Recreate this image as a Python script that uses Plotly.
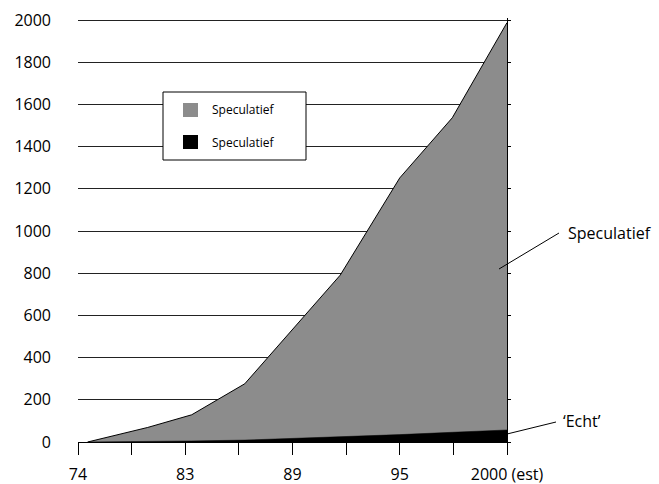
import plotly.graph_objects as go

# x positions on a 0..8 tick grid (74 ... 2000 (est))
x_pos = [0.18, 1.3, 2.12, 3.11, 4.89, 6.0, 6.98, 8.0]
speculatief = [0, 69, 129, 276, 791, 1252, 1537, 1988]
echt = [0, 2, 5, 9, 23, 35, 46, 57]

tick_pos = [0, 1, 2, 3, 4, 5, 6, 7, 8]
tick_text = ["74", "", "83", "", "89", "", "95", "", "2000 (est)"]
y_ticks = [0, 200, 400, 600, 800, 1000, 1200, 1400, 1600, 1800, 2000]

W, H = 659, 484
L, R, T, B = 78, 152, 18, 42
FONT = "Open Sans"
Y_MAX = 2010  # a little headroom so the 2000 gridline is drawn


def px(x):
    return (x - L) / (W - L - R)


def py(y):
    return (H - B - y) / (H - T - B)


fig = go.Figure()

fig.add_trace(go.Scatter(
    x=x_pos, y=speculatief, mode="lines", fill="tozeroy",
    fillcolor="#8c8c8c", line=dict(color="black", width=1),
    showlegend=False, hoverinfo="skip"
))
fig.add_trace(go.Scatter(
    x=x_pos, y=echt, mode="lines", fill="tozeroy",
    fillcolor="black", line=dict(color="black", width=0.5),
    showlegend=False, hoverinfo="skip"
))
# dummy trace for the right-hand axis
fig.add_trace(go.Scatter(x=[None], y=[None], yaxis="y2", showlegend=False))

shapes = [
    # legend box
    dict(type="rect", xref="paper", yref="paper", x0=px(163), x1=px(306), y0=py(160), y1=py(92),
         line=dict(color="black", width=1), fillcolor="white", layer="above"),
    dict(type="rect", xref="paper", yref="paper", x0=px(183), x1=px(198), y0=py(117), y1=py(103),
         line=dict(width=0), fillcolor="#8c8c8c", layer="above"),
    dict(type="rect", xref="paper", yref="paper", x0=px(183), x1=px(198), y0=py(149), y1=py(135),
         line=dict(width=0), fillcolor="black", layer="above"),
    # leader lines
    dict(type="line", xref="paper", yref="paper", x0=px(499), y0=py(269), x1=px(559), y1=py(233),
         line=dict(color="black", width=1), layer="above"),
    dict(type="line", xref="paper", yref="paper", x0=px(507), y0=py(434), x1=px(556), y1=py(422),
         line=dict(color="black", width=1), layer="above"),
]

annotations = [
    dict(text="Speculatief", xref="paper", yref="paper", x=px(210), y=py(110),
         xanchor="left", yanchor="middle", showarrow=False, font=dict(size=12)),
    dict(text="Speculatief", xref="paper", yref="paper", x=px(210), y=py(142),
         xanchor="left", yanchor="middle", showarrow=False, font=dict(size=12)),
    dict(text="Speculatief", xref="paper", yref="paper", x=px(566), y=py(233),
         xanchor="left", yanchor="middle", showarrow=False, font=dict(size=16)),
    dict(text="\u2018Echt\u2019", xref="paper", yref="paper", x=px(561), y=py(421),
         xanchor="left", yanchor="middle", showarrow=False, font=dict(size=16)),
]

fig.update_layout(
    width=W, height=H,
    margin=dict(l=L, r=R, t=T, b=B, autoexpand=False),
    paper_bgcolor="white", plot_bgcolor="white",
    font=dict(family=FONT, color="black", size=16),
    shapes=shapes, annotations=annotations,
    xaxis=dict(
        range=[0, 8], tickvals=tick_pos, ticktext=tick_text, automargin=False,
        showgrid=False, zeroline=False, showline=True, linecolor="black", linewidth=1,
        ticks="outside", ticklen=12, tickcolor="black", tickwidth=1,
        ticklabelstandoff=6, tickfont=dict(size=16),
    ),
    yaxis=dict(
        range=[0, Y_MAX], tickvals=y_ticks, automargin=False,
        showgrid=True, gridcolor="#222222", gridwidth=1, zeroline=False,
        showline=False, ticks="", ticklabelstandoff=26, tickfont=dict(size=16),
    ),
    yaxis2=dict(
        range=[0, Y_MAX], tickvals=y_ticks, overlaying="y", side="right", automargin=False,
        showgrid=False, zeroline=False, showline=True, linecolor="black", linewidth=1,
        ticks="outside", ticklen=3, tickcolor="black", showticklabels=False,
    ),
)

# drop the default page margin so the figure sits at the window's corner
fig.write_html("out.html", config={"displayModeBar": False},
               post_script="document.body.style.margin='0';")
